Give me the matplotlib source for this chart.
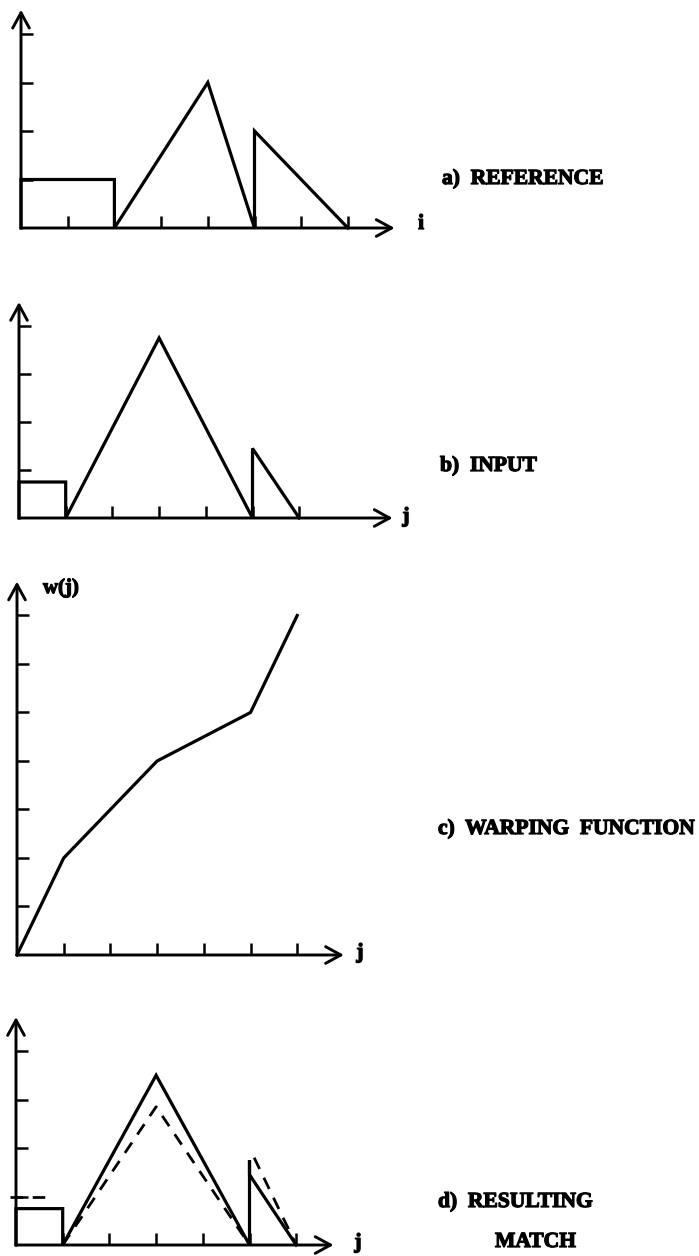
import matplotlib
matplotlib.use("Agg")
import matplotlib.pyplot as plt
import matplotlib.patheffects as pe

# ---------------- data ----------------
# a) reference
ref_i = [0, 0, 2, 2, 4, 5, 5, 7]
ref_v = [0, 1, 1, 0, 3, 0, 2, 0]
# b) input
inp_j = [0, 0, 1, 1, 3, 5, 5, 6]
inp_v = [0, 0.75, 0.75, 0, 3.75, 0, 1.45, 0]
# c) warping function
warp_j = [0, 1, 3, 5, 6]
warp_w = [0, 2, 4, 5, 7]
# d) resulting match: solid (warped input) and dashed (reference)
match_j = [0, 0, 1, 1, 3, 5, 5, 5, 6]
match_v = [0, 0.75, 0.75, 0, 3.5, 0, 1.75, 1.45, 0]
match_ref_rect_j = [-0.13, 0.75]
match_ref_rect_v = [1, 1]
match_ref_tri_j = [1, 3, 5]
match_ref_tri_v = [0, 2.85, 0]
match_ref_tail_j = [5.1, 6]
match_ref_tail_v = [1.8, 0]

xticks_a = [1, 2, 3, 4, 5, 6, 7]
yticks_a = [1, 2, 3, 4]
xticks_b = [1, 2, 3, 4, 5, 6]
yticks_b = [1, 2, 3, 4]
xticks_c = [1, 2, 3, 4, 5, 6]
yticks_c = [1, 2, 3, 4, 5, 6, 7]
xticks_d = [1, 2, 3, 4, 5, 6]
yticks_d = [1, 2, 3, 4]

# ---------------- layout ----------------
W, H = 699, 1256
fig = plt.figure(figsize=(W / 100, H / 100), dpi=100)
fig.patch.set_facecolor("white")

FONT = dict(family="Liberation Serif", weight="bold", color="black")
STROKE = [pe.withStroke(linewidth=0.9, foreground="black")]
LW = 2.3
AXLW = 2.1


def make_ax(ox, oy, ux, uy, x0, x1, y0, y1):
    left = ox + x0 * ux
    right = ox + x1 * ux
    top = oy - y1 * uy
    bottom = oy - y0 * uy
    ax = fig.add_axes([left / W, 1 - bottom / H, (right - left) / W, (bottom - top) / H])
    ax.set_xlim(x0, x1)
    ax.set_ylim(y0, y1)
    ax.patch.set_alpha(0)
    for s in ax.spines.values():
        s.set_visible(False)
    ax.spines["left"].set_position(("data", 0))
    ax.spines["bottom"].set_position(("data", 0))
    ax.tick_params(direction="in", length=8.5, width=1.8, labelleft=False,
                   labelbottom=False, top=False, right=False)
    return ax


def axes_arrows(ax, xtip, ytip):
    ap = dict(arrowstyle="->,head_length=1.1,head_width=0.6", lw=AXLW,
              color="black", shrinkA=0, shrinkB=0)
    ax.annotate("", xy=(xtip, 0), xytext=(0, 0), arrowprops=ap, annotation_clip=False)
    ax.annotate("", xy=(0, ytip), xytext=(0, 0), arrowprops=ap, annotation_clip=False)


def ftext(x, y, s, size=15.5, ha="left"):
    fig.text(x / W, 1 - y / H, s, ha=ha, va="center", fontsize=size,
             path_effects=STROKE, **FONT)


# a) REFERENCE
ax = make_ax(21, 228, 46.7, 48.5, -0.4, 8.3, -0.3, 4.6)
axes_arrows(ax, 8.0, 4.5)
ax.set_xticks(xticks_a)
ax.set_yticks(yticks_a)
ax.plot(ref_i, ref_v, color="black", lw=LW, solid_joinstyle="miter")
ftext(442, 179, "a)  REFERENCE")
ftext(421, 224, "i", ha="center")

# b) INPUT
ax = make_ax(19, 518, 46.7, 48.0, -0.4, 8.3, -0.3, 4.7)
axes_arrows(ax, 8.0, 4.5)
ax.set_xticks(xticks_b)
ax.set_yticks(yticks_b)
ax.plot(inp_j, inp_v, color="black", lw=LW, solid_joinstyle="miter")
ftext(440, 466, "b)  INPUT")
ftext(406, 517, "j", ha="center")

# c) WARPING FUNCTION
ax = make_ax(17, 955, 46.7, 48.5, -0.4, 7.5, -0.3, 7.9)
axes_arrows(ax, 7.0, 7.7)
ax.set_xticks(xticks_c)
ax.set_yticks(yticks_c)
ax.plot(warp_j, warp_w, color="black", lw=LW)
ftext(43, 588, "w(j)", size=15)
ftext(438, 829, "c)  WARPING  FUNCTION")
ftext(360, 953, "j", ha="center")

# d) RESULTING MATCH
ax = make_ax(16, 1245, 46.7, 48.5, -0.4, 7.3, -0.3, 4.9)
axes_arrows(ax, 6.8, 4.7)
ax.set_xticks(xticks_d)
ax.set_yticks(yticks_d)
ax.plot(match_j, match_v, color="black", lw=LW, solid_joinstyle="miter")
dash = dict(color="black", lw=2.0, linestyle=(0, (4.5, 3.5)))
ax.plot(match_ref_rect_j, match_ref_rect_v, clip_on=False, **dash)
ax.plot(match_ref_tri_j, match_ref_tri_v, **dash)
ax.plot(match_ref_tail_j, match_ref_tail_v, **dash)
ftext(438, 1202, "d)  RESULTING")
ftext(495, 1242, "MATCH")
ftext(358, 1243, "j", ha="center")

fig.savefig("out.png", dpi=100, facecolor="white")
